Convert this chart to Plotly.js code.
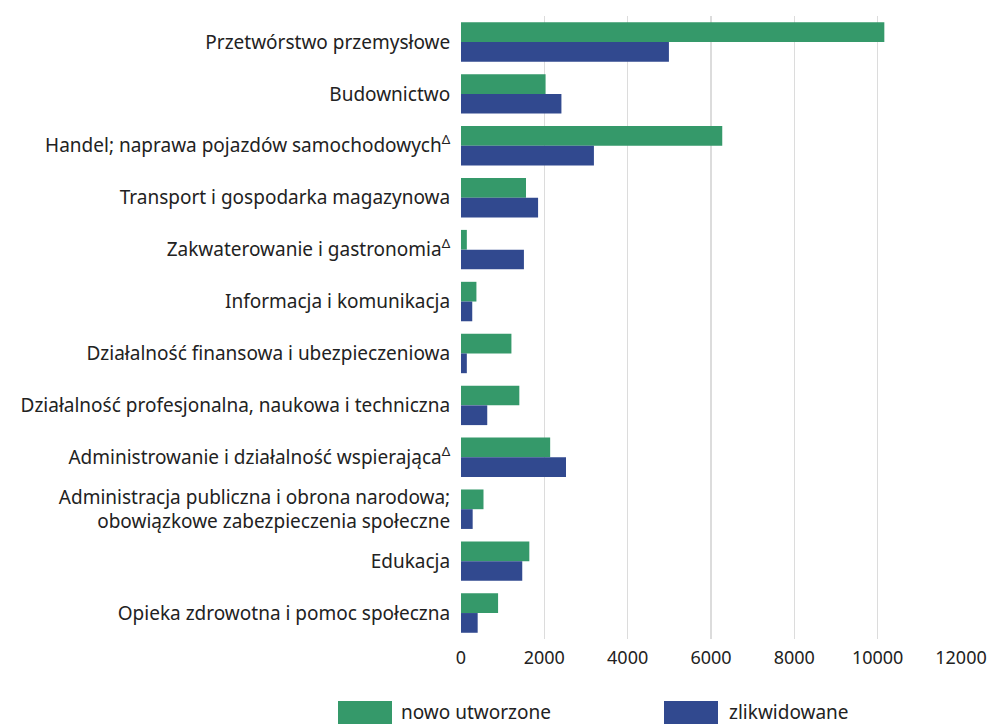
<!DOCTYPE html>
<html>
<head>
<meta charset="utf-8">
<script src="https://cdn.plot.ly/plotly-3.0.1.min.js"></script>
<style>html,body{margin:0;padding:0;background:#fff;}#chart{width:992px;height:724px;}</style>
</head>
<body>
<div id="chart"></div>
<script>
const categories = [
  "Przetwórstwo przemysłowe",
  "Budownictwo",
  "Handel; naprawa pojazdów samochodowych<sup>Δ</sup>",
  "Transport i gospodarka magazynowa",
  "Zakwaterowanie i gastronomia<sup>Δ</sup>",
  "Informacja i komunikacja",
  "Działalność finansowa i ubezpieczeniowa",
  "Działalność profesjonalna, naukowa i techniczna",
  "Administrowanie i działalność wspierająca<sup>Δ</sup>",
  "Administracja publiczna i obrona narodowa;<br>obowiązkowe zabezpieczenia społeczne",
  "Edukacja",
  "Opieka zdrowotna i pomoc społeczna"
];
const nowoUtworzone = [10160, 2030, 6270, 1560, 140, 370, 1210, 1400, 2140, 540, 1640, 890];
const zlikwidowane  = [4990, 2410, 3190, 1850, 1510, 270, 140, 630, 2520, 280, 1470, 400];
const seriesNames = ["nowo utworzone", "zlikwidowane"];
const xTicks = [0, 2000, 4000, 6000, 8000, 10000, 12000];

const GREEN = "#35996A";
const BLUE = "#31498F";
const FONT = "Noto Sans, Open Sans, sans-serif";

const traces = [
  {type: "bar", orientation: "h", name: seriesNames[0], y: categories, x: nowoUtworzone,
   marker: {color: GREEN}, hoverinfo: "x+name"},
  {type: "bar", orientation: "h", name: seriesNames[1], y: categories, x: zlikwidowane,
   marker: {color: BLUE}, hoverinfo: "x+name"}
];

const PL = 461, PR = 961, PT = 16, PB = 639;
const px = v => (v - PL) / (PR - PL);
const py = v => (PB - v) / (PB - PT);

const layout = {
  width: 992, height: 724,
  margin: {l: PL, r: 992 - PR, t: PT, b: 724 - PB},
  paper_bgcolor: "#fff", plot_bgcolor: "#fff",
  font: {family: FONT, size: 18, color: "#222"},
  barmode: "group", bargap: 0.24, bargroupgap: 0,
  showlegend: false,
  xaxis: {
    range: [0, 12000], tickvals: xTicks, ticktext: xTicks.map(String),
    showgrid: true, gridcolor: "#dcdcdc", gridwidth: 1.6,
    zeroline: false, showline: false,
    ticks: "outside", ticklen: 2, tickcolor: "rgba(0,0,0,0)",
    tickfont: {family: FONT, size: 18, color: "#222"}, fixedrange: true
  },
  yaxis: {
    type: "category", autorange: "reversed",
    showgrid: false, zeroline: false, showline: false,
    ticks: "outside", ticklen: 6, tickcolor: "rgba(0,0,0,0)",
    tickfont: {family: FONT, size: 19, color: "#222"}, fixedrange: true
  },
  shapes: [
    {type: "rect", xref: "paper", yref: "paper", x0: px(338), x1: px(392), y0: py(701), y1: py(740),
     fillcolor: GREEN, line: {width: 0}},
    {type: "rect", xref: "paper", yref: "paper", x0: px(664), x1: px(718), y0: py(701), y1: py(740),
     fillcolor: BLUE, line: {width: 0}}
  ],
  annotations: [
    {xref: "paper", yref: "paper", x: px(399), y: py(712), xanchor: "left", yanchor: "middle",
     text: seriesNames[0], showarrow: false, font: {family: FONT, size: 19, color: "#222"}},
    {xref: "paper", yref: "paper", x: px(727), y: py(712), xanchor: "left", yanchor: "middle",
     text: seriesNames[1], showarrow: false, font: {family: FONT, size: 19, color: "#222"}}
  ]
};

Plotly.newPlot("chart", traces, layout, {displayModeBar: false, staticPlot: true});
</script>
</body>
</html>
